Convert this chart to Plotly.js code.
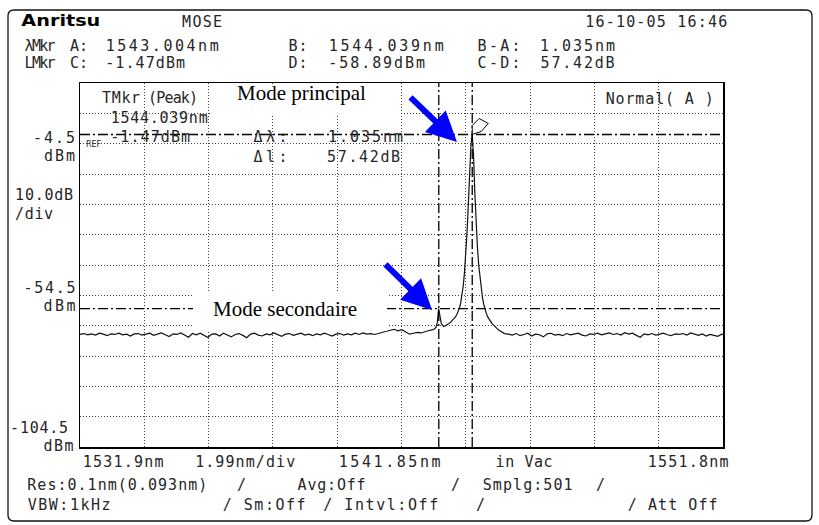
<!DOCTYPE html>
<html>
<head>
<meta charset="utf-8">
<script src="https://cdn.plot.ly/plotly-3.0.1.min.js"></script>
<style>html,body{margin:0;padding:0;background:#fff}#chart{width:819px;height:525px}</style>
</head>
<body>
<div id="chart"></div>
<script>
// ---------------- DATA ----------------
// Axis settings read from the instrument screen
const xStart = 1531.9, xEnd = 1551.8, xDiv = 1.99;
const yBottom = -104.5, yTop = 15.5, yDiv = 10;
const xTickLabels = ['1531.9nm', '1541.85nm', '1551.8nm'];
const yTickLabels = ['-4.5', '-54.5', '-104.5'];

// Markers
const markerA = 1543.004;   // nm
const markerB = 1544.039;   // nm
const markerC = -1.47;      // dBm
const markerD = -58.89;     // dBm

// Trace: left noise floor
const wlLeft = [1531.90,1532.02,1532.14,1532.26,1532.38,1532.50,1532.62,1532.74,1532.86,1532.98,
1533.10,1533.22,1533.34,1533.46,1533.58,1533.70,1533.82,1533.94,1534.06,1534.18,
1534.30,1534.42,1534.54,1534.66,1534.78,1534.90,1535.02,1535.14,1535.26,1535.38,
1535.50,1535.62,1535.74,1535.86,1535.98,1536.10,1536.22,1536.34,1536.46,1536.58,
1536.70,1536.82,1536.94,1537.06,1537.18,1537.30,1537.42,1537.54,1537.66,1537.78,
1537.90,1538.02,1538.14,1538.26,1538.38,1538.50,1538.62,1538.74,1538.86,1538.98,
1539.10,1539.22,1539.34,1539.46,1539.58,1539.70,1539.82,1539.94,1540.06,1540.18,
1540.30,1540.42,1540.54,1540.66,1540.78,1540.90,1541.02,1541.14,1541.26,
1541.38,1541.50,1541.62,1541.74,1541.86,1541.98,1542.10,1542.22,1542.34,1542.46,1542.58,1542.70,1542.82];
const dbmLeft = [-67.4,-67.1,-67.5,-67.2,-67.6,-67.0,-67.3,-67.8,-67.2,-67.4,
-67.0,-67.5,-67.3,-67.9,-67.2,-67.1,-67.6,-67.4,-67.0,-67.7,
-67.3,-66.9,-67.5,-68.1,-67.2,-67.4,-66.9,-67.6,-68.3,-67.1,
-67.5,-67.0,-67.8,-68.4,-67.3,-67.2,-67.9,-67.0,-67.6,-68.2,
-67.4,-67.1,-67.7,-68.5,-67.3,-67.0,-67.6,-67.9,-67.2,-67.5,
-66.9,-67.4,-68.0,-67.3,-67.1,-67.7,-67.4,-67.0,-67.6,-67.3,
-67.8,-67.2,-67.5,-67.0,-67.4,-67.9,-67.3,-67.1,-67.6,-67.2,
-67.5,-67.0,-67.4,-66.9,-67.3,-67.1,-67.4,-67.0,-66.8,
-66.4,-66.0,-65.7,-66.2,-65.8,-66.6,-67.3,-67.0,-66.7,-66.9,-66.4,-66.1,-65.8];

// Trace: secondary + main mode region
const wlPeaks = [1542.879,1542.919,1542.959,1542.999,1543.039,1543.079,1543.119,1543.159,1543.199,1543.239,
1543.279,1543.319,1543.359,1543.399,1543.439,1543.479,1543.519,1543.559,1543.599,1543.639,
1543.679,1543.719,1543.759,1543.799,1543.839,1543.879,1543.919,1543.959,1543.999,1544.039,
1544.079,1544.119,1544.159,1544.199,1544.239,1544.279,1544.319,1544.359,1544.399,1544.439,
1544.479,1544.519,1544.559,1544.599,1544.639,1544.679,1544.719,1544.759,1544.799,1544.839,
1544.879,1544.919,1544.959,1544.999,1545.039];
const dbmPeaks = [-65.5,-65.0,-63.5,-58.9,-61.5,-63.6,-64.4,-64.8,-64.6,-64.4,
-64.1,-63.8,-63.5,-63.1,-62.7,-62.2,-61.6,-60.9,-60.0,-58.8,
-57.2,-54.8,-51.5,-47.0,-41.0,-33.5,-24.5,-13.5,-4.8,-1.47,
-8.5,-20.5,-30.5,-38.5,-44.5,-49.0,-52.5,-55.5,-57.6,-59.3,
-60.6,-61.6,-62.4,-63.0,-63.6,-64.1,-64.6,-65.0,-65.4,-65.8,
-66.1,-66.4,-66.7,-66.9,-67.1];

// Trace: right noise floor
const wlRight = [1545.159,1545.279,1545.399,1545.519,1545.639,1545.759,1545.879,1545.999,1546.119,1546.239,
1546.359,1546.479,1546.599,1546.719,1546.839,1546.959,1547.079,1547.199,1547.319,1547.439,
1547.559,1547.679,1547.799,1547.919,1548.039,1548.159,1548.279,1548.399,1548.519,1548.639,
1548.759,1548.879,1548.999,1549.119,1549.239,1549.359,1549.479,1549.599,1549.719,1549.839,
1549.959,1550.079,1550.199,1550.319,1550.439,1550.559,1550.679,1550.799,1550.919,1551.039,
1551.159,1551.279,1551.399,1551.519,1551.639,1551.759,1551.800];
const dbmRight = [-67.3,-67.6,-67.1,-67.8,-67.4,-67.0,-67.9,-67.3,-67.5,-68.2,
-67.2,-67.0,-67.6,-67.4,-67.8,-67.1,-67.5,-67.3,-67.0,-67.6,
-67.9,-67.2,-67.4,-67.0,-67.5,-67.2,-66.9,-67.4,-67.1,-67.6,
-66.8,-67.3,-67.0,-67.7,-68.3,-67.2,-67.5,-67.1,-67.6,-67.3,
-67.0,-67.5,-67.8,-67.2,-67.4,-67.1,-67.6,-66.9,-67.3,-67.7,
-67.2,-67.9,-67.4,-67.6,-68.0,-67.3,-67.5];

// ---------------- LAYOUT HELPERS ----------------
const PL = 80, PR = 723, PT = 83, PB = 447;
const px = x => (x - PL) / (PR - PL);
const py = y => (PB - y) / (PB - PT);
const nm = v => v.toFixed(3) + 'nm';
const dbm = v => v.toFixed(2) + 'dBm';
const db = v => v.toFixed(2) + 'dB';

const MONO = 'DejaVu Sans Mono';
const INK = '#262626';

// [text, left px, right px, center y px, kind]
const texts = [
  ['Anritsu', 21, 100, 21.5, 'logo'],
  ['MOSE', 182, 222, 22.5],
  ['16-10-05 16:46', 585, 727, 22.5],
  ['λMkr', 24, 55, 46.5],
  ['A:', 70, 88, 46.5],
  [nm(markerA), 105, 218, 46.5],
  ['B:', 288, 307, 46.5],
  [nm(markerB), 328, 443, 46.5],
  ['B-A:', 477, 520, 46.5],
  [nm(markerB - markerA), 540, 615, 46.5],
  ['LMkr', 24, 55, 63],
  ['C:', 70, 88, 63],
  [dbm(markerC), 105, 185, 63],
  ['D:', 288, 307, 63],
  [dbm(markerD), 328, 425, 63],
  ['C-D:', 477, 520, 63],
  [db(markerC - markerD), 540, 614, 63],
  ['TMkr', 102, 140, 98],
  ['(Peak)', 148, 198, 98],
  [nm(markerB), 110, 207, 117.5],
  ['REF', 86, 102, 144, 'small'],
  [dbm(markerC), 110, 190, 137],
  ['Δλ:', 253, 287, 137],
  [nm(markerB - markerA), 328, 403, 137],
  ['Δl:', 253, 287, 157],
  [db(markerC - markerD), 327, 400, 157],
  ['Normal( A )', 605, 713, 99],
  [yTickLabels[0], 33, 75, 138],
  ['dBm', 44, 75, 156],
  [yDiv.toFixed(1) + 'dB', 15, 73, 195],
  ['/div', 15, 53, 214],
  [yTickLabels[1], 23, 75, 288],
  ['dBm', 43, 75, 306],
  [yTickLabels[2], 10, 68, 428],
  ['dBm', 43, 73, 446],
  [xTickLabels[0], 82, 163, 462],
  [xDiv.toFixed(2) + 'nm/div', 195, 295, 462],
  [xTickLabels[1], 338, 440, 462],
  ['in Vac', 495, 552, 462],
  [xTickLabels[2], 647, 728, 462],
  ['Res:0.1nm(0.093nm)', 27, 207, 485],
  ['/', 238, 245, 485],
  ['Avg:Off', 297, 365, 485],
  ['/', 452, 459, 485],
  ['Smplg:501', 482, 572, 485],
  ['/', 597, 604, 485],
  ['VBW:1kHz', 27, 110, 505],
  ['/ Sm:Off', 222, 305, 505],
  ['/ Intvl:Off', 323, 438, 505],
  ['/', 477, 484, 505],
  ['/ Att Off', 627, 717, 505]
];

const annotations = [];
const spans = [];
texts.forEach(t => {
  const kind = t[4] || 'm';
  let font = {family: MONO, size: 15, color: INK};
  if (kind === 'logo') font = {family: 'DejaVu Sans', size: 15, color: '#000', weight: 'bold'};
  if (kind === 'small') font = {family: 'DejaVu Sans', size: 8, color: INK};
  annotations.push({
    text: t[0], xref: 'paper', yref: 'paper',
    x: px((t[1] + t[2]) / 2), y: py(t[3]),
    xanchor: 'center', yanchor: 'middle', showarrow: false,
    font: font, borderpad: 0
  });
  spans.push(kind === 'small' ? 0 : [t[2] - t[1], kind === 'logo' ? 'spacingAndGlyphs' : 'spacing']);
});

// Serif annotations
const SERIF = 'Liberation Serif';
annotations.push({text: 'Mode principal', xref: 'paper', yref: 'paper', x: px(301), y: py(93),
  xanchor: 'center', yanchor: 'middle', showarrow: false, font: {family: SERIF, size: 21, color: '#000'}});
spans.push(0);
annotations.push({text: 'Mode secondaire', xref: 'paper', yref: 'paper', x: px(285), y: py(309),
  xanchor: 'center', yanchor: 'middle', showarrow: false, font: {family: SERIF, size: 21, color: '#000'}});
spans.push(0);

// Blue arrows
[[457, 142, -48, -46], [432, 310, -48, -47]].forEach(a => {
  annotations.push({text: '', xref: 'paper', yref: 'paper', x: px(a[0]), y: py(a[1]),
    ax: a[2], ay: a[3], showarrow: true, arrowhead: 2, arrowsize: 1, arrowwidth: 6,
    arrowcolor: '#0000ff', standoff: 0});
  spans.push(0);
});

// Shapes
const DASHDOT = '10px,3px,2px,3px';
const mline = {color: '#000', width: 1.3, dash: DASHDOT};
const FL = px(8), FR = px(812), FT = py(10), FB = py(521);
const rx = 6 / (PR - PL), ry = 6 / (PB - PT);
const framePath = `M ${FL + rx},${FT} L ${FR - rx},${FT} Q ${FR},${FT} ${FR},${FT - ry} L ${FR},${FB + ry} Q ${FR},${FB} ${FR - rx},${FB} L ${FL + rx},${FB} Q ${FL},${FB} ${FL},${FB + ry} L ${FL},${FT - ry} Q ${FL},${FT} ${FL + rx},${FT} Z`;

const shapes = [
  {type: 'path', xref: 'paper', yref: 'paper', path: framePath, line: {color: '#111', width: 1.3}, layer: 'above'},
  {type: 'line', xref: 'x', yref: 'paper', x0: markerA, x1: markerA, y0: 0, y1: 1, line: mline, layer: 'above'},
  {type: 'line', xref: 'x', yref: 'paper', x0: markerB, x1: markerB, y0: 0, y1: 1, line: mline, layer: 'above'},
  {type: 'line', xref: 'paper', yref: 'y', x0: 0, x1: 1, y0: markerC, y1: markerC, line: mline, layer: 'above'},
  {type: 'line', xref: 'paper', yref: 'y', x0: 0, x1: 1, y0: markerD, y1: markerD, line: mline, layer: 'above'},
  // white paste-over boxes behind the French labels
  {type: 'rect', xref: 'paper', yref: 'paper', x0: px(210), x1: px(400), y0: py(115), y1: py(84),
    fillcolor: '#fff', line: {width: 0}, layer: 'above'},
  {type: 'rect', xref: 'paper', yref: 'paper', x0: px(193), x1: px(387), y0: py(331), y1: py(292),
    fillcolor: '#fff', line: {width: 0}, layer: 'above'},
  // marker flag at the peak
  {type: 'path', xref: 'x', yref: 'y', xsizemode: 'pixel', ysizemode: 'pixel',
    xanchor: markerB, yanchor: markerC, path: 'M0,0 L0,9 L7,16 L16,11 L9,3 Z',
    fillcolor: '#fff', line: {color: '#000', width: 1}, layer: 'above'}
];

const trace = {
  type: 'scatter', mode: 'lines',
  x: wlLeft.concat(wlPeaks, wlRight),
  y: dbmLeft.concat(dbmPeaks, dbmRight),
  line: {color: '#111', width: 1.2},
  hoverinfo: 'skip'
};

const axisCommon = {
  showticklabels: false, ticks: '', tickmode: 'linear',
  showgrid: true, gridcolor: '#444', gridwidth: 1, griddash: '1px,2px',
  zeroline: false, showline: true, linecolor: '#000', linewidth: 1.5, mirror: true,
  fixedrange: true
};

const layout = {
  width: 819, height: 525,
  margin: {l: PL, r: 819 - PR, t: PT, b: 525 - PB, pad: 0},
  paper_bgcolor: '#fff', plot_bgcolor: '#fff',
  showlegend: false,
  xaxis: Object.assign({range: [xStart, xEnd], tick0: xStart, dtick: xDiv}, axisCommon),
  yaxis: Object.assign({range: [yBottom, yTop], tick0: yBottom, dtick: yDiv}, axisCommon),
  shapes: shapes,
  annotations: annotations
};

function stretchText() {
  document.querySelectorAll('#chart g.annotation').forEach(g => {
    const i = +g.getAttribute('data-index');
    const s = spans[i];
    if (!s) return;
    const t = g.querySelector('text.annotation-text');
    if (!t) return;
    t.setAttribute('textLength', s[0]);
    t.setAttribute('lengthAdjust', s[1]);
  });
}

Plotly.newPlot('chart', [trace], layout, {staticPlot: true, displayModeBar: false}).then(stretchText);
</script>
</body>
</html>
